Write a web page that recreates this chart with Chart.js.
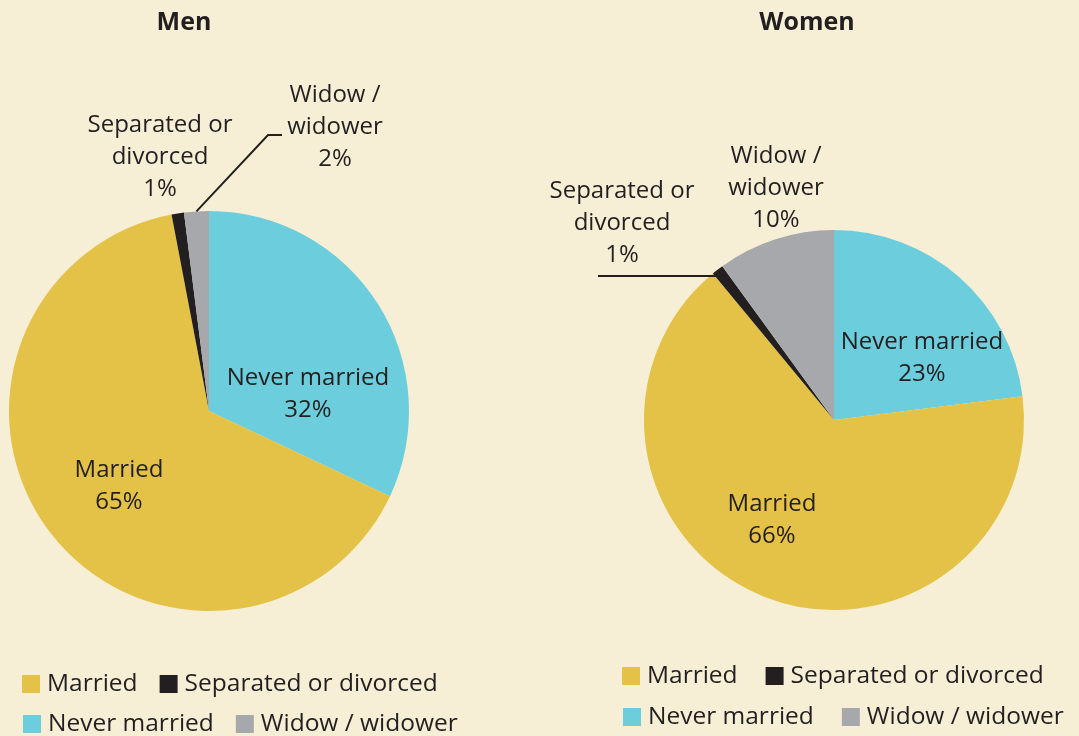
<!DOCTYPE html>
<html>
<head>
<meta charset="utf-8">
<script src="https://cdn.jsdelivr.net/npm/chart.js@4"></script>
<style>
  html, body { margin: 0; padding: 0; background: #f7efd5; }
  #wrap { position: relative; width: 1079px; height: 736px; overflow: hidden; }
  .box { position: absolute; top: 0; height: 736px; }
</style>
</head>
<body>
<div id="wrap">
  <div class="box" style="left:0;width:540px"><canvas id="men"></canvas></div>
  <div class="box" style="left:540px;width:539px"><canvas id="women"></canvas></div>
</div>
<script>
// data
const categories = ["Never married", "Married", "Separated or divorced", "Widow / widower"];
const menValues = [32, 65, 1, 2];
const womenValues = [23, 66, 1, 10];
const sliceColors = ["#6ccddc", "#e3c247", "#231f20", "#a7a8ab"];
// legend order as in the picture (two rows)
const legendRows = [[1, 2], [0, 3]];

const FONT = "'Open Sans', 'Noto Sans', sans-serif";
const INK = "#231f20";

// labels: which slice, text lines, offset of first line from pie centre (px)
const menLabels = [
  { i: 0, lines: ["Never married", "32%"], dx: 99, dy: -33 },
  { i: 1, lines: ["Married", "65%"], dx: -90, dy: 59 },
  { i: 2, lines: ["Separated or", "divorced", "1%"], dx: -49, dy: -286 },
  { i: 3, lines: ["Widow /", "widower", "2%"], dx: 126, dy: -316 }
];
const womenLabels = [
  { i: 0, lines: ["Never married", "23%"], dx: 88, dy: -78 },
  { i: 1, lines: ["Married", "66%"], dx: -62, dy: 84 },
  { i: 2, lines: ["Separated or", "divorced", "1%"], dx: -212, dy: -229 },
  { i: 3, lines: ["Widow /", "widower", "10%"], dx: -58, dy: -264 }
];

const labelPlugin = {
  id: "pieLabels",
  afterDraw(chart, args, opts) {
    const ctx = chart.ctx;
    const arcs = chart.getDatasetMeta(0).data;
    const cx = arcs[0].x, cy = arcs[0].y;
    ctx.save();
    ctx.fillStyle = INK;
    ctx.textBaseline = "middle";

    // title
    ctx.font = "bold 25px " + FONT;
    ctx.textAlign = "center";
    ctx.fillText(opts.title, opts.titleX, 23);

    // slice labels
    ctx.font = "24px " + FONT;
    opts.labels.forEach(l => {
      l.lines.forEach((t, k) => ctx.fillText(t, cx + l.dx, cy + l.dy + k * 32));
    });

    // leader line
    const ld = opts.leader;
    const a = arcs[ld.i];
    const mid = (a.startAngle + a.endAngle) / 2;
    const r = a.outerRadius * ld.rf;
    let px = cx + Math.cos(mid) * r, py = cy + Math.sin(mid) * r;
    ctx.strokeStyle = INK;
    ctx.lineWidth = 2;
    ctx.beginPath();
    ctx.moveTo(px, py);
    ld.pts.forEach(p => {
      px = cx + p[0];
      py = p[1] === null ? py : cy + p[1];
      ctx.lineTo(px, py);
    });
    ctx.stroke();

    // legend
    ctx.font = "24.5px " + FONT;
    ctx.textAlign = "left";
    legendRows.forEach((row, ri) => {
      let x = opts.legendX[ri];
      const y = opts.legendY[ri];
      row.forEach(ci => {
        ctx.fillStyle = sliceColors[ci];
        ctx.fillRect(x, y - 9, 18, 18);
        ctx.fillStyle = INK;
        ctx.fillText(categories[ci], x + 25, y);
        x += 25 + ctx.measureText(categories[ci]).width + opts.legendGap;
      });
    });
    ctx.restore();
  }
};

function makePie(id, values, padding, plug) {
  new Chart(document.getElementById(id), {
    type: "pie",
    data: {
      labels: categories,
      datasets: [{ data: values, backgroundColor: sliceColors, borderWidth: 0 }]
    },
    options: {
      responsive: true,
      maintainAspectRatio: false,
      animation: false,
      layout: { padding },
      plugins: {
        legend: { display: false },
        tooltip: { enabled: false },
        pieLabels: plug
      }
    },
    plugins: [labelPlugin]
  });
}

makePie("men", menValues, { left: 9, right: 131, top: 211, bottom: 125 }, {
  title: "Men", titleX: 184,
  labels: menLabels,
  leader: { i: 3, rf: 1.0, pts: [[59, -276], [73, null]] },
  legendX: [22, 23], legendY: [684, 724], legendGap: 22
});

makePie("women", womenValues, { left: 104, right: 55, top: 230, bottom: 126 }, {
  title: "Women", titleX: 267,
  labels: womenLabels,
  leader: { i: 2, rf: 0.96, pts: [[-236, null]] },
  legendX: [82, 83], legendY: [676, 717], legendGap: 28
});
</script>
</body>
</html>
